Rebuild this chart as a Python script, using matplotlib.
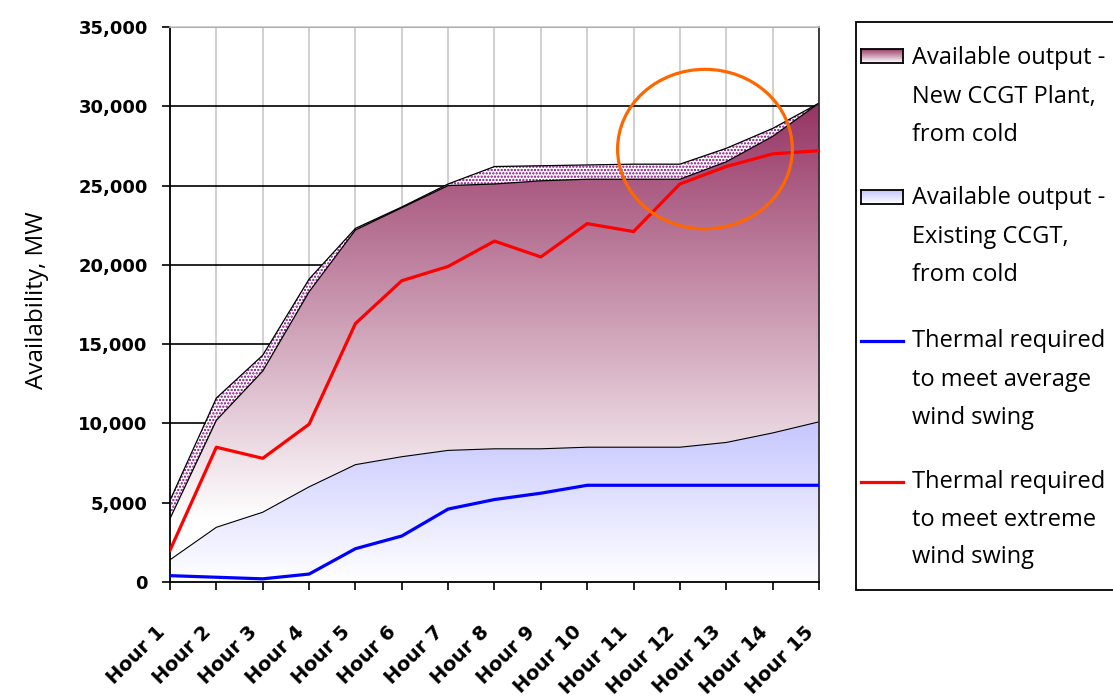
import numpy as np
import matplotlib
matplotlib.use("Agg")
import matplotlib.pyplot as plt
from matplotlib.patches import Polygon, Rectangle, Ellipse
from matplotlib.lines import Line2D
from matplotlib.transforms import ScaledTranslation

# data (MW)
hours = ["Hour 1", "Hour 2", "Hour 3", "Hour 4", "Hour 5", "Hour 6", "Hour 7", "Hour 8",
         "Hour 9", "Hour 10", "Hour 11", "Hour 12", "Hour 13", "Hour 14", "Hour 15"]
existing_ccgt = [1400, 3450, 4400, 6000, 7400, 7900, 8300, 8400, 8400, 8500, 8500, 8500, 8800, 9400, 10100]
new_ccgt_top = [4000, 10200, 13300, 18300, 22200, 23600, 25000, 25100, 25300, 25400, 25400, 25400, 26500, 28100, 30200]
band_top = [5150, 11600, 14300, 19100, 22300, 23650, 25100, 26200, 26250, 26300, 26350, 26350, 27350, 28600, 30200]
thermal_average = [400, 300, 200, 500, 2100, 2900, 4600, 5200, 5600, 6100, 6100, 6100, 6100, 6100, 6100]
thermal_extreme = [2000, 8500, 7800, 9950, 16300, 19000, 19900, 21500, 20500, 22600, 22100, 25100, 26200, 27000, 27200]
y_ticks = [0, 5000, 10000, 15000, 20000, 25000, 30000, 35000]

legend_labels = [
    ["Available output -", "New CCGT Plant,", "from cold"],
    ["Available output -", "Existing CCGT,", "from cold"],
    ["Thermal required", "to meet average", "wind swing"],
    ["Thermal required", "to meet extreme", "wind swing"],
]

mauve_top = np.array([150, 52, 100]) / 255
blue_top = np.array([198, 198, 255]) / 255
white = np.array([1.0, 1.0, 1.0])

W, H = 1113, 697
fig = plt.figure(figsize=(W / 100, H / 100), dpi=100)
ax = fig.add_axes([170 / W, 1 - 582 / H, (819 - 170) / W, (582 - 27) / H])
x = np.arange(1, len(hours) + 1)


def gradient_area(lower, upper, v0, v1, c_top, z):
    verts = np.concatenate([np.column_stack([x, upper]),
                            np.column_stack([x[::-1], np.array(lower)[::-1]])])
    patch = Polygon(verts, closed=True, facecolor="none", edgecolor="none")
    ax.add_patch(patch)
    ys = np.linspace(0, 35000, 500)
    t = np.clip((ys - v0) / (v1 - v0), 0, 1)[:, None]
    cols = white + t * (c_top - white)
    img = ax.imshow(cols[:, None, :], extent=[1, 15, 0, 35000], origin="lower",
                    aspect="auto", zorder=z, interpolation="bilinear")
    img.set_clip_path(patch)


# areas
gradient_area(np.zeros(len(x)), existing_ccgt, 0, 10100, blue_top, 1)
gradient_area(existing_ccgt, new_ccgt_top, 4000, 30200, mauve_top, 1)
plt.rcParams["hatch.color"] = "#800080"
plt.rcParams["hatch.linewidth"] = 1.1
ax.fill_between(x, new_ccgt_top, band_top, facecolor="white", edgecolor="#800080",
                hatch=".....", linewidth=0, zorder=1.5)
ax.plot(x, band_top, color="black", lw=0.9, zorder=2)
ax.plot(x, new_ccgt_top, color="black", lw=0.9, zorder=2)
ax.plot(x, existing_ccgt, color="black", lw=0.8, zorder=2)

# lines
ax.plot(x, thermal_average, color="#0000FF", lw=2.3, zorder=3)
ax.plot(x, thermal_extreme, color="#FF0000", lw=2.3, zorder=3)

# highlight circle
ax.add_patch(Ellipse((12.54, 27300), width=3.77, height=10060, fill=False,
                     edgecolor="#FF6600", lw=2.3, zorder=5, clip_on=False))

ax.set_xlim(1, 15)
ax.set_ylim(0, 35000)

# grid and axes
ax.set_axisbelow(True)
ax.yaxis.grid(True, color="black", lw=1.2, zorder=0)
ax.xaxis.grid(True, color="#C8C8C8", lw=1.2, zorder=0)
for side in ["left", "bottom"]:
    ax.spines[side].set_color("black")
    ax.spines[side].set_linewidth(1.3)
ax.spines["top"].set_color("#C8C8C8")
ax.spines["top"].set_linewidth(1.2)
ax.spines["right"].set_color("#303030")
ax.spines["right"].set_linewidth(1.3)

ax.set_yticks(y_ticks)
ax.set_yticklabels([f"{v:,}" for v in y_ticks], fontsize=13, fontweight="bold",
                   family="DejaVu Sans")
ax.set_xticks(x)
ax.set_xticklabels(hours, fontsize=14, fontweight="bold", family="DejaVu Sans",
                   rotation=45, ha="right", va="top", rotation_mode="anchor")
ax.tick_params(axis="both", direction="out", length=6, width=1.2, color="black")
ax.tick_params(axis="y", pad=10)
ax.tick_params(axis="x", pad=23)
for lab in ax.get_xticklabels():
    lab.set_transform(lab.get_transform() + ScaledTranslation(-0.15, 0, fig.dpi_scale_trans))

fig.text(37 / W, 1 - 300 / H, "Availability, MW", rotation=90, ha="center", va="center",
         fontsize=17.5, family="Open Sans")

# legend drawn by hand so it can run off the right edge like the original
fig.patches.append(Rectangle((856 / W, 1 - 590 / H), 300 / W, 568 / H, transform=fig.transFigure,
                             facecolor="white", edgecolor="black", lw=1.3, zorder=0.5))
line_y = [[58, 97, 135], [198, 237, 275], [341, 380, 418], [482, 520, 557]]
for labels, ys in zip(legend_labels, line_y):
    for lbl, yy in zip(labels, ys):
        fig.text(912 / W, 1 - yy / H, lbl, ha="left", va="center", fontsize=17,
                 family="Open Sans")

for c_top, yy in [(mauve_top, 56), (blue_top, 197)]:
    sw = fig.add_axes([861 / W, 1 - (yy + 7) / H, 42 / W, 14 / H])
    sw.set_zorder(3)
    g = np.linspace(0, 1, 20)[:, None]
    sw.imshow((white + g * (c_top - white))[:, None, :], origin="lower", aspect="auto",
              extent=[0, 1, 0, 1])
    sw.set_xticks([])
    sw.set_yticks([])
    for s in sw.spines.values():
        s.set_color("black")
        s.set_linewidth(1.3)

for color, yy in [("#0000FF", 341), ("#FF0000", 482)]:
    fig.lines.append(Line2D([861 / W, 903 / W], [1 - yy / H, 1 - yy / H], transform=fig.transFigure,
                            color=color, lw=2.3, zorder=3))

fig.savefig("out.png", dpi=100)
